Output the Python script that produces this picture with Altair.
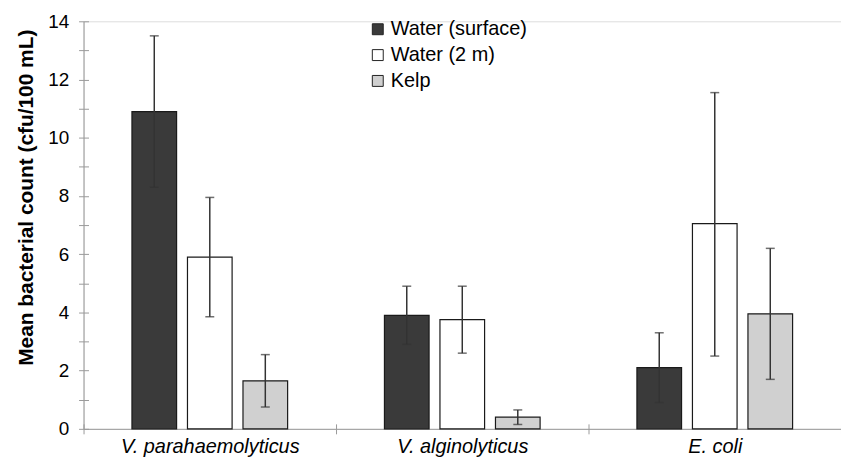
import altair as alt
import pandas as pd

organisms = ["V. parahaemolyticus", "V. alginolyticus", "E. coli"]
samples = ["Water (surface)", "Water (2 m)", "Kelp"]
colors = ["#3a3a3a", "#ffffff", "#d0d0d0"]

means = {
    "Water (surface)": [10.9, 3.9, 2.1],
    "Water (2 m)": [5.9, 3.75, 7.05],
    "Kelp": [1.65, 0.4, 3.95],
}
lows = {
    "Water (surface)": [8.3, 2.9, 0.9],
    "Water (2 m)": [3.85, 2.6, 2.5],
    "Kelp": [0.75, 0.15, 1.7],
}
highs = {
    "Water (surface)": [13.5, 4.9, 3.3],
    "Water (2 m)": [7.95, 4.9, 11.55],
    "Kelp": [2.55, 0.65, 6.2],
}

rows = []
for s in samples:
    for i, o in enumerate(organisms):
        rows.append({"organism": o, "sample": s, "mean": means[s][i],
                     "low": lows[s][i], "high": highs[s][i]})
df = pd.DataFrame(rows)

FONT = "Liberation Sans"
AXC = "#9a9a9a"
W, H = 762, 410

xscale = alt.Scale(domain=organisms, paddingInner=0, paddingOuter=0)
xoscale = alt.Scale(domain=samples, paddingInner=0.196, paddingOuter=0.872)
yscale = alt.Scale(domain=[0, 14], nice=False)

base = alt.Chart(df)

bars = base.mark_bar(stroke="#1a1a1a", strokeWidth=1.2).encode(
    x=alt.X("organism:N", sort=organisms, scale=xscale,
            axis=alt.Axis(title=None, labelAngle=0, tickBand="extent",
                          labelFont=FONT, labelFontSize=20, labelFontStyle="italic",
                          labelColor="#000", labelPadding=3, tickSize=5,
                          domainColor=AXC, tickColor=AXC)),
    xOffset=alt.XOffset("sample:N", sort=samples, scale=xoscale),
    y=alt.Y("mean:Q", scale=yscale,
            axis=alt.Axis(title="Mean bacterial count (cfu/100 mL)",
                          values=list(range(0, 15)),
                          labelExpr="datum.value % 2 == 0 ? datum.label : ''",
                          labelFont=FONT, labelFontSize=19, labelColor="#000",
                          labelPadding=10, tickSize=5, domainColor=AXC, tickColor=AXC,
                          grid=False, titleFont=FONT, titleFontSize=21,
                          titleFontWeight="bold", titleColor="#000",
                          titleX=-47, titleY=177)),
    fill=alt.Fill("sample:N", sort=samples,
                  scale=alt.Scale(domain=samples, range=colors),
                  legend=alt.Legend(title=None, orient="none", legendX=286, legendY=-2,
                                    symbolType="square", symbolSize=121,
                                    symbolStrokeColor="#222", symbolStrokeWidth=1,
                                    labelFont=FONT, labelFontSize=20, labelColor="#000",
                                    labelOffset=3, rowPadding=6)),
)

rules = base.mark_rule(color="#333", strokeWidth=1.5).encode(
    x=alt.X("organism:N", sort=organisms, scale=xscale,
            axis=alt.Axis(orient="top", offset=-H, labels=False, domain=False,
                          title=None, tickBand="extent", tickSize=5, tickColor=AXC)),
    xOffset=alt.XOffset("sample:N", sort=samples, scale=xoscale),
    y=alt.Y("low:Q", scale=yscale,
            axis=alt.Axis(orient="right", offset=-W, labels=False, domain=False,
                          title=None, values=list(range(0, 15)), tickSize=5,
                          tickColor=AXC, grid=False)),
    y2="high:Q",
)

caps = base.transform_fold(["low", "high"], as_=["end", "val"]).mark_tick(
    color="#333", thickness=1.5, size=9
).encode(
    x=alt.X("organism:N", sort=organisms, scale=xscale, axis=None),
    xOffset=alt.XOffset("sample:N", sort=samples, scale=xoscale),
    y=alt.Y("val:Q", scale=yscale, axis=None),
)

chart = alt.layer(bars, rules, caps).resolve_scale(
    x="shared", y="shared"
).resolve_axis(
    x="independent", y="independent"
).properties(
    width=W, height=H,
    autosize=alt.AutoSizeParams(type="none"),
    padding={"left": 76, "top": 12, "right": 0, "bottom": 35},
).configure_view(stroke=None).configure(background="#ffffff")

chart.save("out.html", embed_options={"renderer": "svg", "actions": False})
